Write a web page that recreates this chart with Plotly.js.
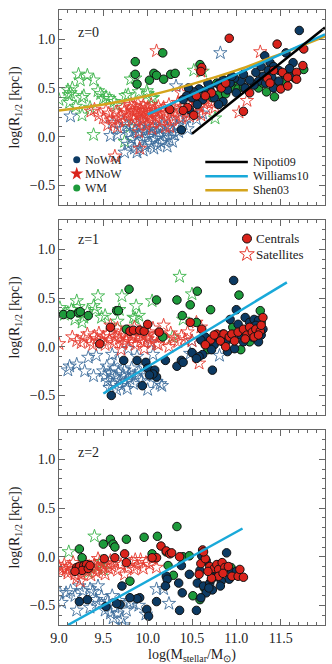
<!DOCTYPE html>
<html>
<head>
<meta charset="utf-8">
<script src="https://cdn.plot.ly/plotly-3.0.1.min.js"></script>
<style>
  html, body { margin: 0; padding: 0; background: #fff; }
  #chart { width: 332px; height: 664px; }
</style>
</head>
<body>
<div id="chart"></div>
<script>
// log M*, log R1/2 pairs, one array per panel and group
// ---- z = 0 ----
const z0_nowm_cen = [[11.71,1.09],[11.32,0.83],[11.56,0.86],[11.64,0.76],[11.38,0.76],[11.42,0.72],[11.36,0.68],[11.48,0.68],[11.54,0.64],[11.30,0.62],[11.40,0.61],[11.60,0.70],[11.66,0.63],[11.25,0.57],[11.20,0.53],[11.48,0.57],[11.33,0.55],[11.42,0.50],[11.05,0.57],[10.98,0.60],[10.93,0.55],[10.85,0.58],[10.80,0.54],[10.70,0.50],[10.65,0.47],[10.58,0.49],[10.52,0.46],[10.46,0.50],[10.44,0.42],[10.40,0.38],[10.50,0.40],[10.90,0.48],[10.75,0.40],[10.62,0.38],[10.56,0.33],[10.47,0.28],[10.38,0.07],[10.85,0.36],[10.80,0.33],[11.10,0.50],[11.00,0.45],[11.15,0.58],[10.68,0.55],[10.95,0.62],[11.08,0.64],[11.22,0.66],[11.28,0.72]];
const z0_mnow_cen = [[10.92,1.01],[11.46,0.95],[11.76,0.90],[10.61,0.71],[10.60,0.67],[10.83,0.50],[11.08,0.26],[10.52,0.22],[10.45,0.30],[10.40,0.27],[10.55,0.42],[10.72,0.45],[10.65,0.42],[11.42,0.68],[11.52,0.66],[11.58,0.61],[11.68,0.66],[11.68,0.59],[11.50,0.49],[11.58,0.52],[11.75,0.73],[11.35,0.60],[11.38,0.55],[10.25,0.28],[10.88,0.55],[11.15,0.45]];
const z0_wm_cen = [[10.17,0.86],[9.86,0.77],[9.86,0.64],[9.88,0.54],[10.02,0.58],[10.07,0.65],[10.10,0.63],[10.18,0.59],[10.26,0.64],[10.31,0.65],[10.59,0.74],[10.71,0.46],[10.78,0.55],[10.86,0.58],[10.93,0.59],[10.97,0.57],[10.83,0.50],[10.95,0.50],[11.02,0.49],[11.08,0.51],[10.80,0.43],[10.88,0.44],[11.76,0.69],[11.66,0.60],[11.55,0.57],[11.45,0.52],[11.34,0.46],[11.43,0.41],[11.25,0.50],[11.62,0.62],[11.30,0.55],[10.73,0.40]];
const z0_nowm_sat = [[9.13,0.21],[10.82,0.86],[10.32,0.52],[9.58,0.01],[9.66,0.02],[9.74,-0.16],[9.88,-0.16],[10.28,-0.05],[9.70,0.08],[9.76,0.12],[9.80,0.04],[9.82,-0.02],[9.84,0.10],[9.86,0.06],[9.88,-0.06],[9.90,0.02],[9.92,0.09],[9.94,-0.03],[9.96,0.05],[9.97,-0.10],[9.99,0.12],[10.00,0.00],[10.02,0.07],[10.03,-0.07],[10.05,0.03],[10.06,0.10],[10.08,-0.02],[10.10,0.05],[10.11,-0.09],[10.13,0.08],[10.14,0.01],[10.16,0.12],[10.18,-0.04],[10.20,0.04],[10.22,0.09],[10.24,-0.01],[10.26,0.15],[10.28,0.06],[10.30,0.02],[10.33,0.11],[10.36,0.18],[10.40,0.13],[10.44,0.20],[10.48,0.25],[10.52,0.30],[9.78,-0.08],[9.85,-0.12],[9.95,-0.14],[10.07,-0.12],[10.15,-0.06],[10.22,-0.10],[9.72,0.15],[9.93,0.16],[10.35,0.05],[10.12,0.18],[10.45,0.08],[9.60,0.14],[10.55,0.18],[10.62,0.24]];
const z0_mnow_sat = [[9.36,0.26],[9.50,0.19],[9.53,0.27],[9.56,0.24],[9.60,0.18],[9.62,0.14],[9.64,0.25],[9.66,0.10],[9.67,0.19],[9.70,0.22],[9.72,0.30],[9.74,0.27],[9.75,0.16],[9.77,0.24],[9.79,0.21],[9.80,0.29],[9.81,0.33],[9.83,0.26],[9.84,0.18],[9.85,0.31],[9.86,0.22],[9.87,0.27],[9.88,0.15],[9.89,0.34],[9.90,0.24],[9.91,0.20],[9.92,0.29],[9.93,0.26],[9.94,0.17],[9.95,0.32],[9.96,0.23],[9.97,0.27],[9.98,0.12],[9.99,0.20],[10.00,0.30],[10.01,0.24],[10.02,0.18],[10.03,0.27],[10.04,0.33],[10.05,0.22],[10.06,0.14],[10.08,0.28],[10.09,0.25],[10.10,0.19],[10.12,0.31],[10.13,0.23],[10.15,0.27],[10.16,0.16],[10.18,0.30],[10.20,0.24],[10.22,0.20],[10.24,0.33],[10.26,0.26],[10.28,0.18],[10.30,0.29],[10.32,0.22],[10.34,0.35],[10.36,0.27],[10.38,0.19],[10.40,0.31],[10.43,0.24],[10.45,0.33],[10.47,0.21],[10.50,0.28],[10.53,0.36],[10.55,0.25],[10.58,0.31],[10.60,0.22],[10.63,0.34],[10.66,0.28],[10.68,0.38],[10.72,0.35],[10.76,0.30],[10.10,0.88],[11.27,0.87],[10.60,0.67],[11.03,0.25],[11.12,0.37],[9.91,-0.12],[9.63,-0.20],[9.90,0.05],[10.05,0.08],[10.20,0.10],[9.55,0.12],[9.45,0.22],[9.40,0.28],[10.52,0.42],[10.38,0.45],[10.25,0.10]];
const z0_wm_sat = [[9.00,0.38],[9.10,0.48],[9.11,0.43],[9.13,0.45],[9.15,0.50],[9.12,0.35],[9.22,0.64],[9.24,0.58],[9.32,0.63],[9.39,0.58],[9.26,0.40],[9.28,0.42],[9.19,0.31],[9.26,0.22],[9.44,0.47],[9.47,0.44],[9.50,0.39],[9.53,0.41],[9.57,0.39],[9.62,0.36],[9.65,0.32],[9.75,0.42],[9.78,0.43],[9.81,0.59],[9.86,0.60],[9.90,0.46],[9.99,0.47],[10.04,0.39],[10.06,0.40],[9.39,0.02],[9.74,-0.05],[9.80,0.10],[10.52,0.68],[10.62,0.67],[10.76,0.19],[10.00,0.44],[9.35,0.30]];

// ---- z = 1 ----
const z1_nowm_cen = [[10.97,0.68],[11.00,0.38],[10.93,0.28],[11.02,0.23],[11.10,0.30],[11.15,0.25],[11.20,0.28],[11.25,0.27],[11.22,0.22],[11.05,0.12],[11.12,0.15],[11.18,0.10],[11.28,0.12],[11.30,0.18],[10.95,0.08],[10.88,0.05],[10.85,0.13],[10.80,0.08],[10.75,0.02],[10.70,0.06],[10.65,0.10],[10.60,0.07],[10.72,-0.03],[10.90,-0.05],[10.98,-0.02],[10.62,-0.08],[10.58,-0.10],[10.73,-0.24],[9.59,-0.50],[9.94,-0.40],[9.73,-0.14],[9.88,-0.14],[9.98,-0.16],[10.00,-0.22],[10.08,-0.24],[10.10,-0.31],[10.06,-0.28],[10.20,-0.14],[10.33,-0.20],[10.38,-0.14],[10.40,-0.16],[10.50,-0.06],[10.55,-0.12],[10.02,-0.29],[11.08,0.05],[11.25,0.05]];
const z1_mnow_cen = [[9.58,0.20],[9.46,0.03],[9.80,0.16],[9.84,0.17],[9.91,0.17],[9.96,0.16],[10.00,0.23],[10.13,0.15],[10.48,0.25],[10.61,0.18],[10.71,0.07],[10.78,0.13],[10.86,0.13],[10.92,0.10],[10.95,0.13],[11.02,0.15],[11.08,0.18],[11.12,0.12],[11.15,0.20],[11.18,0.15],[11.22,0.18],[11.27,0.16],[11.30,0.30],[11.28,0.22],[10.82,0.06],[10.98,0.06],[11.10,0.08],[10.65,0.02],[10.88,0.00],[11.20,0.10],[10.75,0.12],[11.25,0.12]];
const z1_wm_cen = [[9.05,0.33],[9.13,0.33],[9.22,0.35],[9.24,0.36],[9.33,0.32],[9.65,0.37],[9.67,0.37],[9.79,0.59],[10.10,0.48],[9.76,0.18],[10.33,0.48],[10.48,0.43],[10.56,0.57],[10.39,0.32],[10.55,0.25],[10.71,0.38],[11.03,0.53],[11.27,0.37],[10.17,0.10],[10.65,0.02],[10.73,0.06],[10.80,0.08],[10.85,0.05],[10.96,0.20],[11.10,0.10],[11.20,0.18],[11.28,0.25],[11.05,-0.03],[10.68,-0.03],[11.15,0.05],[11.22,0.10]];
const z1_nowm_sat = [[9.10,-0.24],[9.12,-0.20],[9.20,-0.18],[9.29,-0.25],[9.33,-0.11],[9.39,-0.30],[9.42,-0.09],[9.50,-0.25],[9.52,-0.30],[9.54,-0.20],[9.55,-0.35],[9.57,-0.42],[9.58,-0.27],[9.60,-0.38],[9.62,-0.22],[9.63,-0.31],[9.65,-0.44],[9.67,-0.26],[9.68,-0.35],[9.70,-0.40],[9.72,-0.29],[9.74,-0.24],[9.75,-0.36],[9.77,-0.43],[9.79,-0.28],[9.80,-0.33],[9.82,-0.22],[9.84,-0.38],[9.86,-0.30],[9.90,-0.26],[9.93,-0.35],[9.96,-0.20],[9.98,-0.30],[10.00,-0.44],[10.04,0.04],[10.06,-0.08],[10.10,-0.36],[10.14,-0.38],[10.16,-0.40],[10.48,-0.07],[10.81,-0.09],[10.50,0.06],[9.60,-0.08],[9.66,-0.14],[9.78,-0.02],[9.88,-0.10]];
const z1_mnow_sat = [[9.00,0.03],[9.15,0.10],[9.20,0.06],[9.25,0.04],[9.28,0.09],[9.32,0.13],[9.35,0.05],[9.38,0.02],[9.40,0.11],[9.43,0.08],[9.45,0.14],[9.48,0.06],[9.50,0.10],[9.52,0.02],[9.55,0.13],[9.57,0.07],[9.60,0.16],[9.62,0.04],[9.64,0.10],[9.66,0.19],[9.68,0.08],[9.70,0.13],[9.72,0.03],[9.74,0.11],[9.76,0.07],[9.78,0.15],[9.80,0.05],[9.82,0.10],[9.84,0.12],[9.86,0.02],[9.88,0.09],[9.90,0.14],[9.92,0.06],[9.94,0.11],[9.96,0.04],[9.98,0.13],[10.00,0.08],[10.02,0.15],[10.04,0.05],[10.06,0.19],[10.08,0.10],[10.10,0.03],[10.14,0.12],[10.18,0.22],[10.22,0.07],[10.26,0.14],[10.30,0.09],[10.34,0.05],[10.38,0.11],[10.42,0.07],[10.45,0.15],[10.50,0.06],[10.55,0.25],[10.58,-0.17],[10.60,0.20],[10.12,0.02],[9.96,-0.02],[9.70,-0.03],[10.24,0.00],[9.58,0.22],[9.85,0.20]];
const z1_wm_sat = [[9.01,0.40],[9.06,0.33],[9.10,0.35],[9.14,0.38],[9.20,0.47],[9.22,0.41],[9.26,0.25],[9.28,0.30],[9.39,0.42],[9.41,0.38],[9.44,0.52],[9.48,0.30],[9.52,0.32],[9.66,0.26],[9.68,0.38],[9.71,0.52],[9.84,0.30],[9.86,0.29],[9.87,0.42],[9.90,0.32],[10.05,0.47],[10.36,0.72],[10.50,0.54],[10.40,0.28],[9.18,0.28],[9.32,0.36],[10.28,0.10]];

// ---- z = 2 ----
const z2_nowm_cen = [[10.89,0.04],[10.61,0.01],[10.66,-0.04],[10.59,-0.14],[10.56,-0.27],[10.63,-0.30],[10.70,-0.27],[10.73,-0.34],[10.66,-0.37],[10.69,-0.32],[10.76,-0.20],[10.79,-0.15],[10.92,-0.23],[10.95,-0.16],[10.83,-0.25],[10.72,-0.23],[10.38,-0.09],[10.47,-0.18],[10.21,-0.20],[10.22,-0.23],[10.35,-0.27],[10.39,-0.37],[10.20,-0.30],[10.10,-0.46],[9.99,-0.54],[10.01,-0.61],[9.91,-0.42],[9.88,-0.43],[9.80,-0.42],[9.71,-0.30],[9.69,-0.49],[9.23,-0.46],[9.32,-0.44],[9.53,-0.51],[10.36,-0.55],[10.55,-0.55],[9.65,-0.48],[10.60,-0.42],[11.00,-0.15],[10.82,-0.30]];
const z2_mnow_cen = [[10.15,0.11],[10.21,0.06],[10.25,0.03],[10.10,-0.01],[10.05,-0.01],[10.27,0.04],[10.36,0.00],[10.62,0.07],[10.60,-0.07],[10.65,-0.02],[10.70,-0.10],[10.75,-0.12],[10.78,-0.08],[10.80,-0.13],[10.80,-0.20],[10.84,-0.06],[10.87,-0.11],[10.91,-0.10],[10.95,-0.20],[11.02,-0.20],[11.04,-0.13],[11.08,-0.21],[10.72,-0.22],[10.68,-0.15],[10.85,-0.17],[9.74,0.03],[9.76,-0.06],[9.63,-0.01],[9.51,-0.02],[9.20,-0.11],[9.23,-0.10],[9.28,-0.09],[9.31,-0.08],[9.26,-0.14],[9.33,-0.12],[9.18,-0.15],[9.35,-0.09],[10.63,0.05],[10.58,-0.18]];
const z2_wm_cen = [[9.23,0.08],[9.26,-0.01],[9.50,0.13],[9.58,0.18],[9.61,0.13],[9.63,0.10],[9.76,0.18],[9.96,0.20],[10.11,0.21],[10.05,0.03],[10.21,0.05],[10.23,-0.09],[10.33,0.31],[10.29,-0.19],[10.40,0.00],[10.47,0.01],[10.51,-0.40],[10.59,-0.44],[10.64,-0.32],[9.80,-0.25],[10.90,-0.11],[10.94,-0.11],[10.62,0.06]];
const z2_nowm_sat = [[9.01,-0.37],[9.03,-0.47],[9.08,-0.37],[9.13,-0.35],[9.18,-0.40],[9.23,-0.30],[9.27,-0.35],[9.35,-0.33],[9.38,-0.36],[9.42,-0.44],[9.45,-0.48],[9.48,-0.41],[9.52,-0.55],[9.55,-0.46],[9.58,-0.58],[9.61,-0.63],[9.63,-0.52],[9.66,-0.58],[9.71,-0.64],[9.73,-0.70],[9.76,-0.55],[9.80,-0.47],[9.84,-0.48],[9.98,-0.59],[10.10,-0.33],[10.18,-0.33],[10.24,-0.48],[9.90,-0.50],[9.60,-0.40],[9.35,-0.52],[9.20,-0.55],[9.44,-0.30],[9.68,-0.45]];
const z2_mnow_sat = [[9.00,-0.10],[9.02,-0.15],[9.04,-0.12],[9.06,-0.08],[9.08,-0.13],[9.10,-0.17],[9.12,-0.10],[9.14,-0.14],[9.16,-0.06],[9.18,-0.18],[9.20,-0.22],[9.22,-0.13],[9.24,-0.25],[9.25,-0.18],[9.28,-0.12],[9.30,-0.06],[9.32,-0.15],[9.34,-0.10],[9.36,-0.19],[9.38,-0.13],[9.40,-0.08],[9.42,-0.16],[9.44,-0.11],[9.46,-0.05],[9.48,-0.14],[9.50,-0.09],[9.52,-0.18],[9.54,-0.07],[9.56,-0.12],[9.58,-0.04],[9.60,-0.10],[9.63,-0.06],[9.66,-0.14],[9.70,-0.08],[9.74,-0.18],[9.78,-0.11],[9.82,-0.06],[9.85,-0.13],[9.88,-0.09],[9.92,-0.03],[9.95,-0.12],[9.98,-0.06],[10.02,-0.08],[10.06,-0.02],[10.10,-0.11],[9.86,-0.03],[9.44,-0.02]];
const z2_wm_sat = [[9.40,0.21],[9.11,0.05],[9.33,-0.16],[9.44,-0.10],[9.50,-0.13],[9.48,-0.05],[9.30,-0.13]];

// fitted relations
const nipotiX = [10.5, 12.0], nipotiY = [0.03, 1.12];
const williamsX0 = [10.0, 12.0], williamsY0 = [0.23, 1.05];
const williamsX1 = [9.5, 11.57], williamsY1 = [-0.48, 0.66];
const williamsX2 = [9.1, 11.07], williamsY2 = [-0.70, 0.29];
const shenX = [9.0, 9.5, 10.0, 10.5, 11.0, 11.5, 12.0];
const shenY = [0.27, 0.33, 0.42, 0.54, 0.68, 0.85, 1.03];

const NAVY = '#0c3a63', RED = '#d9231b', GREEN = '#1d9a3b';
const NAVY_S = '#3d6d9c', RED_S = '#e53a2f', GREEN_S = '#3bb34a';
const CYAN = '#19a9d9', GOLD = '#d4a41c';
const FONT = 'Liberation Serif, Times New Roman, serif';

function stars(pts, col, ax) {
  return { type: 'scatter', mode: 'markers', x: pts.map(p => p[0]), y: pts.map(p => p[1]),
    xaxis: 'x' + ax, yaxis: 'y' + ax, hoverinfo: 'skip',
    marker: { symbol: 'star-open', size: 10, color: col, line: { width: 0.9, color: col } } };
}
function dots(pts, col, ax) {
  return { type: 'scatter', mode: 'markers', x: pts.map(p => p[0]), y: pts.map(p => p[1]),
    xaxis: 'x' + ax, yaxis: 'y' + ax, hoverinfo: 'skip',
    marker: { symbol: 'circle', size: 8.5, color: col, line: { width: 1, color: '#111' } } };
}
function line(xs, ys, col, ax, shape) {
  return { type: 'scatter', mode: 'lines', x: xs, y: ys, xaxis: 'x' + ax, yaxis: 'y' + ax,
    hoverinfo: 'skip', line: { color: col, width: 2.5, shape: shape || 'linear' } };
}
// legend swatch marker, drawn on the axes at a fixed spot
function swatch(x, y, sym, col, ax, size, lc) {
  return { type: 'scatter', mode: 'markers', x: [x], y: [y], xaxis: 'x' + ax, yaxis: 'y' + ax, hoverinfo: 'skip',
    marker: { symbol: sym, size: size, color: col, line: { width: lc ? 1 : 0, color: lc || col } } };
}

// legend row positions (data units)
const legL = [-0.235, -0.38, -0.525];
const legR = [-0.26, -0.405, -0.55];

const traces = [
  stars(z0_wm_sat, GREEN_S, ''), stars(z0_nowm_sat, NAVY_S, ''), stars(z0_mnow_sat, RED_S, ''),
  dots(z0_wm_cen, GREEN, ''), dots(z0_nowm_cen, NAVY, ''), dots(z0_mnow_cen, RED, ''),
  line(shenX, shenY, GOLD, '', 'spline'), line(williamsX0, williamsY0, CYAN, ''), line(nipotiX, nipotiY, '#000', ''),
  swatch(9.20, legL[0], 'circle', NAVY, '', 7),
  swatch(9.20, legL[1], 'star', RED, '', 10),
  swatch(9.20, legL[2], 'circle', GREEN, '', 7),

  stars(z1_wm_sat, GREEN_S, '2'), stars(z1_nowm_sat, NAVY_S, '2'), stars(z1_mnow_sat, RED_S, '2'),
  dots(z1_wm_cen, GREEN, '2'), dots(z1_nowm_cen, NAVY, '2'), dots(z1_mnow_cen, RED, '2'),
  line(williamsX1, williamsY1, CYAN, '2'),
  swatch(11.12, 1.11, 'circle', RED, '2', 9, '#111'),
  swatch(11.12, 0.95, 'star-open', RED_S, '2', 11, RED_S),

  stars(z2_wm_sat, GREEN_S, '3'), stars(z2_nowm_sat, NAVY_S, '3'), stars(z2_mnow_sat, RED_S, '3'),
  dots(z2_wm_cen, GREEN, '3'), dots(z2_nowm_cen, NAVY, '3'), dots(z2_mnow_cen, RED, '3'),
  line(williamsX2, williamsY2, CYAN, '3')
];

const AXC = '#666';
function xax(anchor, labels) {
  const a = { range: [9, 12], anchor: anchor, showline: true, linecolor: AXC, linewidth: 1, mirror: 'ticks',
    ticks: 'inside', ticklen: 6, tickcolor: AXC, dtick: 0.5, tick0: 9, tickformat: '.1f',
    minor: { dtick: 0.1, ticks: 'inside', ticklen: 3, tickcolor: AXC },
    showgrid: false, zeroline: false, showticklabels: labels,
    tickfont: { family: FONT, size: 14, color: '#222' } };
  if (labels) a.title = { text: 'log(M<sub>stellar</sub>/M<sub>⊙</sub>)', font: { family: FONT, size: 14, color: '#222' }, standoff: 4 };
  return a;
}
function yax(anchor, dom) {
  return { range: [-0.7, 1.3], domain: dom, anchor: anchor, showline: true, linecolor: AXC, linewidth: 1, mirror: 'ticks',
    ticks: 'inside', ticklen: 6, tickcolor: AXC, tickvals: [-0.5, 0, 0.5, 1.0], tickformat: '.1f',
    minor: { dtick: 0.1, ticks: 'inside', ticklen: 3, tickcolor: AXC },
    showgrid: false, zeroline: false,
    tickfont: { family: FONT, size: 14, color: '#222' },
    title: { text: 'log(R<sub>1/2</sub> [kpc])', font: { family: FONT, size: 14, color: '#222' }, standoff: 6 } };
}

function txt(x, y, ax, s, size) {
  return { x: x, y: y, xref: 'x' + ax, yref: 'y' + ax, text: s, showarrow: false, xanchor: 'left',
    yanchor: 'middle', borderpad: 0, font: { family: FONT, size: size || 14, color: '#222' } };
}

const annotations = [
  txt(9.2, 1.07, '', 'z=0'), txt(9.2, 1.10, '2', 'z=1'), txt(9.2, 1.07, '3', 'z=2'),
  // left legend, z=0
  txt(9.28, legL[0], '', 'NoWM', 12), txt(9.28, legL[1], '', 'MNoW', 12), txt(9.28, legL[2], '', 'WM', 12),
  // right legend, z=0
  txt(11.18, legR[0], '', 'Nipoti09', 12), txt(11.18, legR[1], '', 'Williams10', 12), txt(11.18, legR[2], '', 'Shen03', 12),
  // legend, z=1
  txt(11.21, 1.11, '2', 'Centrals', 13), txt(11.21, 0.95, '2', 'Satellites', 13)
];

const shapes = [
  { type: 'line', xref: 'x', yref: 'y', x0: 10.65, x1: 11.13, y0: legR[0], y1: legR[0], line: { color: '#000', width: 2.5 } },
  { type: 'line', xref: 'x', yref: 'y', x0: 10.65, x1: 11.13, y0: legR[1], y1: legR[1], line: { color: CYAN, width: 2.5 } },
  { type: 'line', xref: 'x', yref: 'y', x0: 10.65, x1: 11.13, y0: legR[2], y1: legR[2], line: { color: GOLD, width: 2.5 } }
];

const layout = {
  width: 332, height: 664,
  margin: { l: 59, r: 7, t: 10, b: 39 },
  paper_bgcolor: '#fff', plot_bgcolor: '#fff',
  showlegend: false,
  xaxis: xax('y', false), yaxis: yax('x', [0.683, 1]),
  xaxis2: xax('y2', false), yaxis2: yax('x2', [0.3415, 0.6585]),
  xaxis3: xax('y3', true), yaxis3: yax('x3', [0, 0.317]),
  annotations: annotations,
  shapes: shapes
};

Plotly.newPlot('chart', traces, layout, { displayModeBar: false, staticPlot: true });
</script>
</body>
</html>
